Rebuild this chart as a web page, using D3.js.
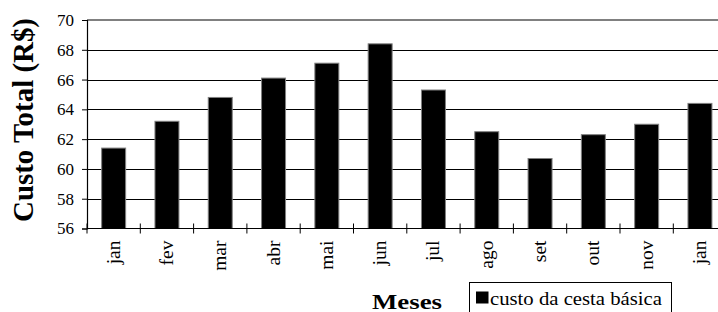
<!DOCTYPE html>
<html><head><meta charset="utf-8">
<script src="https://cdn.jsdelivr.net/npm/d3@7"></script>
<style>html,body{margin:0;padding:0;background:#fff;overflow:hidden}svg{display:block}</style>
</head><body>
<script>
const months = ["jan","fev","mar","abr","mai","jun","jul","ago","set","out","nov","jan"];
const values = [61.4, 63.2, 64.8, 66.1, 67.1, 68.4, 65.3, 62.5, 60.7, 62.3, 63.0, 64.4];
const yTicks = [56, 58, 60, 62, 64, 66, 68, 70];
const seriesName = "custo da cesta básica";
const xTitle = "Meses";
const yTitle = "Custo Total (R$)";

(function () {
const W = 718, H = 312;
const mLeft = 87, mRight = 726.6, mTop = 20, mBottom = 228.5;
const serif = "'Liberation Serif','Times New Roman',serif";

const svg = d3.select("body").append("svg").attr("width", W).attr("height", H);

const x = d3.scaleBand().domain(d3.range(months.length)).range([mLeft, mRight])
  .paddingInner(0.55).paddingOuter(0.275);
const y = d3.scaleLinear().domain([56, 70]).range([mBottom, mTop]);

// gridlines
svg.append("g").selectAll("line").data(yTicks.filter(v => v > 56 && v < 70)).join("line")
  .attr("x1", mLeft).attr("x2", mRight).attr("y1", d => Math.round(y(d)) + 0.5).attr("y2", d => Math.round(y(d)) + 0.5)
  .attr("stroke", "#000").attr("stroke-width", 1);
// top border (gray)
svg.append("line").attr("x1", mLeft).attr("x2", mRight).attr("y1", y(70)).attr("y2", y(70))
  .attr("stroke", "#808080").attr("stroke-width", 2);

// bars
svg.append("g").selectAll("rect").data(values).join("rect")
  .attr("x", (d, i) => x(i)).attr("width", x.bandwidth())
  .attr("y", d => y(d)).attr("height", d => y(56) - y(d))
  .attr("fill", "#000").attr("stroke", "#808080").attr("stroke-width", 1);

// y axis
const yAxis = d3.axisLeft(y).tickValues(yTicks).tickSize(5).tickPadding(8).tickFormat(d3.format("d"));
const gy = svg.append("g").attr("transform", `translate(${mLeft},0)`).call(yAxis);
gy.select(".domain").attr("stroke", "#000").attr("stroke-width", 1.2);
gy.selectAll(".tick line").attr("stroke", "#000");
gy.selectAll("text").attr("font-family", serif).attr("font-size", 17).attr("fill", "#000");

// x axis line
svg.append("line").attr("x1", mLeft).attr("x2", mRight).attr("y1", mBottom).attr("y2", mBottom)
  .attr("stroke", "#000").attr("stroke-width", 1.2);
// x tick marks at category boundaries
const step = x.step();
const bounds = d3.range(months.length + 1).map(i => i < months.length
  ? x(i) - step * x.paddingInner() / 2
  : x(months.length - 1) + x.bandwidth() + step * x.paddingInner() / 2);
svg.append("g").selectAll("line").data(bounds).join("line")
  .attr("x1", d => d).attr("x2", d => d).attr("y1", mBottom - 5).attr("y2", mBottom + 5)
  .attr("stroke", "#000").attr("stroke-width", 1);
// x labels (rotated)
svg.append("g").selectAll("text").data(months).join("text")
  .attr("transform", (d, i) => `translate(${x(i) + x.bandwidth() / 2 + 6},${mBottom + 12}) rotate(-90)`)
  .attr("text-anchor", "end").attr("font-family", serif).attr("font-size", 19.5).attr("fill", "#000")
  .text(d => d);

// y title
svg.append("text").attr("transform", `translate(33,120) rotate(-90)`)
  .attr("text-anchor", "middle").attr("font-family", serif).attr("font-weight", "bold")
  .attr("font-size", 29).attr("textLength", 204).attr("lengthAdjust", "spacingAndGlyphs")
  .text(yTitle);

// x title
svg.append("text").attr("x", 372).attr("y", 309.3)
  .attr("font-family", serif).attr("font-weight", "bold").attr("font-size", 22)
  .attr("textLength", 70).attr("lengthAdjust", "spacingAndGlyphs").text(xTitle);

// legend
const lg = svg.append("g");
lg.append("rect").attr("x", 469.5).attr("y", 282.5).attr("width", 202).attr("height", 40)
  .attr("fill", "#fff").attr("stroke", "#000").attr("stroke-width", 1);
lg.append("rect").attr("x", 476).attr("y", 291.5).attr("width", 12.5).attr("height", 12)
  .attr("fill", "#000");
lg.append("text").attr("x", 490).attr("y", 305).attr("font-family", serif).attr("font-size", 19)
  .attr("textLength", 172).attr("lengthAdjust", "spacingAndGlyphs").text(seriesName);
})();
</script>
</body></html>
